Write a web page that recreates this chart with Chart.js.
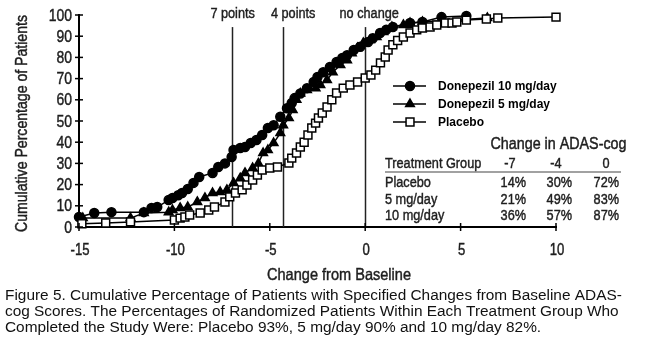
<!DOCTYPE html>
<html lang="en">
<head>
<meta charset="UTF-8">
<title>Cumulative Percentage of Patients</title>
<script src="https://cdn.jsdelivr.net/npm/chart.js"></script>
<style>
  body { margin: 0; background: #fff; }
  #wrap { width: 662px; height: 363px; }
</style>
</head>
<body>
<div id="wrap"><canvas id="chart" width="662" height="363"></canvas></div>
<script>
// Change from baseline (x) and cumulative % of patients (y)
const d10X = [-15, -14.2, -13.3, -11.6, -11.2, -10.9, -10.3, -10.1, -9.8, -9.6, -9.3, -9.0, -8.7, -8.0, -7.7, -7.35, -7.0, -6.9, -6.55, -6.3, -6.0, -5.7, -5.4, -5.1, -4.8, -4.45, -4.1, -3.85, -3.7, -3.4, -3.05, -2.7, -2.5, -2.2, -1.85, -1.5, -1.2, -0.95, -0.6, -0.26, 0.15, 0.4, 0.78, 1.1, 1.45, 2.35, 3.0, 4.0, 5.3];
const d10Y = [4.7, 6.6, 7, 7, 9, 9.4, 12.7, 13.7, 15, 16, 17.9, 20.8, 23.6, 25.5, 28.3, 30, 33, 36.3, 37.3, 37.7, 39.6, 41, 43.4, 46.7, 48, 52, 56, 58.5, 60.8, 63, 65.5, 68.4, 70.8, 73, 75.5, 77.8, 79.7, 81, 83.5, 85, 87.3, 89, 91.5, 93, 94.3, 96.2, 96.7, 99, 99.5];

const d5X = [-14.8, -12.3, -11.6, -10.3, -10.1, -9.7, -9.3, -8.8, -8.4, -8.0, -7.6, -7.25, -6.9, -6.55, -6.3, -5.9, -5.6, -5.35, -5.1, -4.8, -4.45, -4.3, -4.0, -3.8, -3.6, -3.4, -3.05, -2.6, -2.35, -2.0, -1.7, -1.3, -0.95, -0.7, -0.4, -0.1, 0.26, 0.6, 0.95, 1.4, 2.0, 2.35, 3.0, 6.4];
const d5Y = [4.2, 4.2, 6.6, 7, 8, 9, 9.4, 11.8, 13.7, 16, 16.5, 17.5, 20.8, 23, 25.5, 27.8, 30, 34.9, 36.3, 39.6, 44.3, 48, 51.4, 55.2, 60, 63, 64.6, 65.5, 67, 69.3, 73, 76.4, 78.7, 82, 84.4, 86.8, 88.2, 89.6, 92, 94.3, 95.3, 96.2, 96.7, 98.6];

const plX = [-14.85, -13.6, -12.3, -10.0, -9.7, -9.45, -9.2, -8.65, -8.2, -7.9, -7.35, -7.1, -6.8, -6.45, -6.2, -5.9, -5.65, -5.4, -5.0, -4.6, -4.0, -3.85, -3.6, -3.4, -3.2, -3.0, -2.8, -2.6, -2.45, -2.25, -2.0, -1.75, -1.5, -1.15, -0.8, -0.4, 0, 0.3, 0.55, 0.8, 1.05, 1.2, 1.45, 1.7, 2.0, 2.35, 2.7, 3.0, 3.4, 3.75, 4.2, 4.55, 4.8, 5.3, 6.35, 6.95, 10.0];
const plY = [1.5, 1.9, 2.4, 3.3, 4.2, 4.7, 5.7, 6.6, 8, 9.4, 11.8, 14.2, 16, 17.5, 19.8, 22.2, 24.5, 26.9, 27.8, 28.3, 30.2, 32.5, 34.9, 37.7, 40, 43.4, 46.7, 49, 51.4, 53.8, 56.6, 60, 63.2, 65.5, 67, 68.4, 70.3, 71.7, 74, 77.4, 80.2, 83.5, 86, 88, 89.6, 91.5, 93, 93.9, 94.3, 95.3, 96.2, 96.2, 96.7, 97.6, 98.1, 98.6, 99];

const seriesNames = ['Donepezil 10 mg/day', 'Donepezil 5 mg/day', 'Placebo'];

const xTicks = [-15, -10, -5, 0, 5, 10];
const yTicks = [0, 10, 20, 30, 40, 50, 60, 70, 80, 90, 100];
const xTitle = 'Change from Baseline';
const yTitle = 'Cumulative Percentage of Patients';

// vertical reference lines
const refX = [-7, -4.3, 0];
const refLabels = ['7 points', '4 points', 'no change'];

// inset table
const tableTitle = 'Change in ADAS-cog';
const tableCols = ['-7', '-4', '0'];
const tableRows = ['Placebo', '5 mg/day', '10 mg/day'];
const tablePct = [[14, 30, 72], [21, 49, 83], [36, 57, 87]];

const caption = [
  'Figure 5. Cumulative Percentage of Patients with Specified Changes from Baseline ADAS-',
  'cog Scores. The Percentages of Randomized Patients Within Each Treatment Group Who',
  'Completed the Study Were: Placebo 93%, 5 mg/day 90% and 10 mg/day 82%.'
];

const SANS = '"Liberation Sans", Arial, sans-serif';
const INK = '#1e1e1e';
const NARROW = 0.82; // horizontal squeeze, the scan uses a condensed face

const pts = (xs, ys) => xs.map((x, i) => ({ x: x, y: ys[i] }));

const styles = [
  { pointStyle: 'circle', radius: 4.5, bg: '#000' },
  { pointStyle: 'triangle', radius: 5, bg: '#000' },
  { pointStyle: 'rect', radius: 5.6, bg: '#fff' }
];

// condensed text: sx squeezes horizontally, or fit to a width if given
// a thin stroke gives the slightly heavy look of the scanned type
function narrowText(ctx, s, x, y, size, align, sx, fitW) {
  ctx.save();
  ctx.font = size + 'px ' + SANS;
  ctx.textBaseline = 'middle';
  ctx.textAlign = align;
  if (fitW) sx = fitW / ctx.measureText(s).width;
  ctx.translate(x, y);
  ctx.scale(sx, 1);
  ctx.strokeStyle = ctx.fillStyle;
  ctx.lineWidth = 0.45;
  ctx.fillText(s, 0, 0);
  ctx.strokeText(s, 0, 0);
  ctx.restore();
}

const overlay = {
  id: 'overlay',
  beforeDatasetsDraw(chart) {
    const ctx = chart.ctx, xs = chart.scales.x, ys = chart.scales.y;
    ctx.save();
    ctx.strokeStyle = '#222';
    ctx.lineWidth = 1.5;
    refX.forEach(v => {
      const px = Math.round(xs.getPixelForValue(v)) + 0.5;
      ctx.beginPath();
      ctx.moveTo(px, ys.getPixelForValue(94.3));
      ctx.lineTo(px, ys.getPixelForValue(0));
      ctx.stroke();
    });
    ctx.restore();
  },
  afterDraw(chart) {
    const ctx = chart.ctx, xs = chart.scales.x, ys = chart.scales.y;
    const a = chart.chartArea;
    ctx.save();
    // tick marks crossing the axes + tick labels
    ctx.strokeStyle = '#000';
    ctx.lineWidth = 1.5;
    ctx.fillStyle = INK;
    ys.ticks.forEach(t => {
      const py = ys.getPixelForValue(t.value);
      ctx.beginPath(); ctx.moveTo(a.left - 4, py); ctx.lineTo(a.left + 4, py); ctx.stroke();
      narrowText(ctx, String(t.value), a.left - 7, py + 1, 17, 'right', NARROW);
    });
    ctx.strokeStyle = '#000';
    ctx.lineWidth = 1.5;
    xs.ticks.forEach(t => {
      const px = xs.getPixelForValue(t.value);
      ctx.beginPath(); ctx.moveTo(px, a.bottom - 4); ctx.lineTo(px, a.bottom + 4); ctx.stroke();
      narrowText(ctx, String(t.value), px + 1, 251, 16, 'center', NARROW);
    });

    // axis titles
    narrowText(ctx, xTitle, 339, 275, 16.5, 'center', 1, 144);
    ctx.save();
    ctx.translate(22, 123.5);
    ctx.rotate(-Math.PI / 2);
    narrowText(ctx, yTitle, 0, 0, 16.5, 'center', 1, 217);
    ctx.restore();

    // reference line labels
    const labelShift = [1, 10, 4];
    refX.forEach((v, i) => {
      narrowText(ctx, refLabels[i], xs.getPixelForValue(v) + labelShift[i], 14, 15.5, 'center', NARROW);
    });

    // legend
    ctx.font = 'bold 12px ' + SANS;
    ctx.textAlign = 'left';
    ctx.textBaseline = 'middle';
    seriesNames.forEach((name, i) => {
      const y = 86 + i * 18;
      ctx.strokeStyle = '#000';
      ctx.lineWidth = 1.5;
      ctx.beginPath(); ctx.moveTo(393, y); ctx.lineTo(426, y); ctx.stroke();
      ctx.fillStyle = styles[i].bg;
      Chart.helpers.drawPoint(ctx, { pointStyle: styles[i].pointStyle, radius: styles[i].radius, rotation: 0, borderWidth: 1.5 }, 410, y);
      ctx.fillStyle = '#000';
      ctx.fillText(name, 438, y + 1);
    });

    // table
    ctx.fillStyle = INK;
    narrowText(ctx, tableTitle, 558.5, 145, 16, 'center', 1, 136);
    narrowText(ctx, 'Treatment Group', 385, 164, 15.5, 'left', NARROW);
    const colC = [510, 556, 606];
    const colR = [526, 572, 619];
    tableCols.forEach((c, j) => narrowText(ctx, c, colC[j], 164, 15.5, 'center', NARROW));
    ctx.strokeStyle = '#444';
    ctx.lineWidth = 1.2;
    ctx.beginPath(); ctx.moveTo(385, 172); ctx.lineTo(621, 172); ctx.stroke();
    tableRows.forEach((r, i) => {
      const y = 183 + i * 16.6;
      narrowText(ctx, r, 385, y, 15.5, 'left', NARROW);
      tablePct[i].forEach((p, j) => narrowText(ctx, p + '%', colR[j], y, 15.5, 'right', NARROW));
    });

    // caption
    ctx.textAlign = 'left';
    ctx.textBaseline = 'middle';
    ctx.fillStyle = '#111';
    ctx.font = '15.4px ' + SANS;
    caption.forEach((line, i) => ctx.fillText(line, 5, 296 + i * 16));
    ctx.restore();
  }
};

new Chart(document.getElementById('chart'), {
  type: 'line',
  data: {
    datasets: [pts(d10X, d10Y), pts(d5X, d5Y), pts(plX, plY)].map((d, i) => ({
      label: seriesNames[i],
      data: d,
      borderColor: '#000',
      borderWidth: 1.5,
      pointStyle: styles[i].pointStyle,
      pointRadius: styles[i].radius,
      pointBackgroundColor: styles[i].bg,
      pointBorderColor: '#000',
      pointBorderWidth: 1.5,
      tension: 0,
      clip: false
    })).reverse()
  },
  options: {
    responsive: false,
    animation: false,
    events: [],
    layout: { padding: { left: 0, top: 15, right: 106, bottom: 76 } },
    plugins: { legend: { display: false }, tooltip: { enabled: false } },
    scales: {
      x: {
        type: 'linear', min: -15, max: 10,
        afterBuildTicks: s => { s.ticks = xTicks.map(v => ({ value: v })); },
        afterFit: s => { s.height = 60; },
        grid: { display: false, drawTicks: false },
        border: { display: true, color: '#000', width: 2 },
        ticks: { display: false }
      },
      y: {
        type: 'linear', min: 0, max: 100,
        afterBuildTicks: s => { s.ticks = yTicks.map(v => ({ value: v })); },
        afterFit: s => { s.width = 79; },
        grid: { display: false, drawTicks: false },
        border: { display: true, color: '#000', width: 2 },
        ticks: { display: false }
      }
    }
  },
  plugins: [overlay]
});
</script>
</body>
</html>
